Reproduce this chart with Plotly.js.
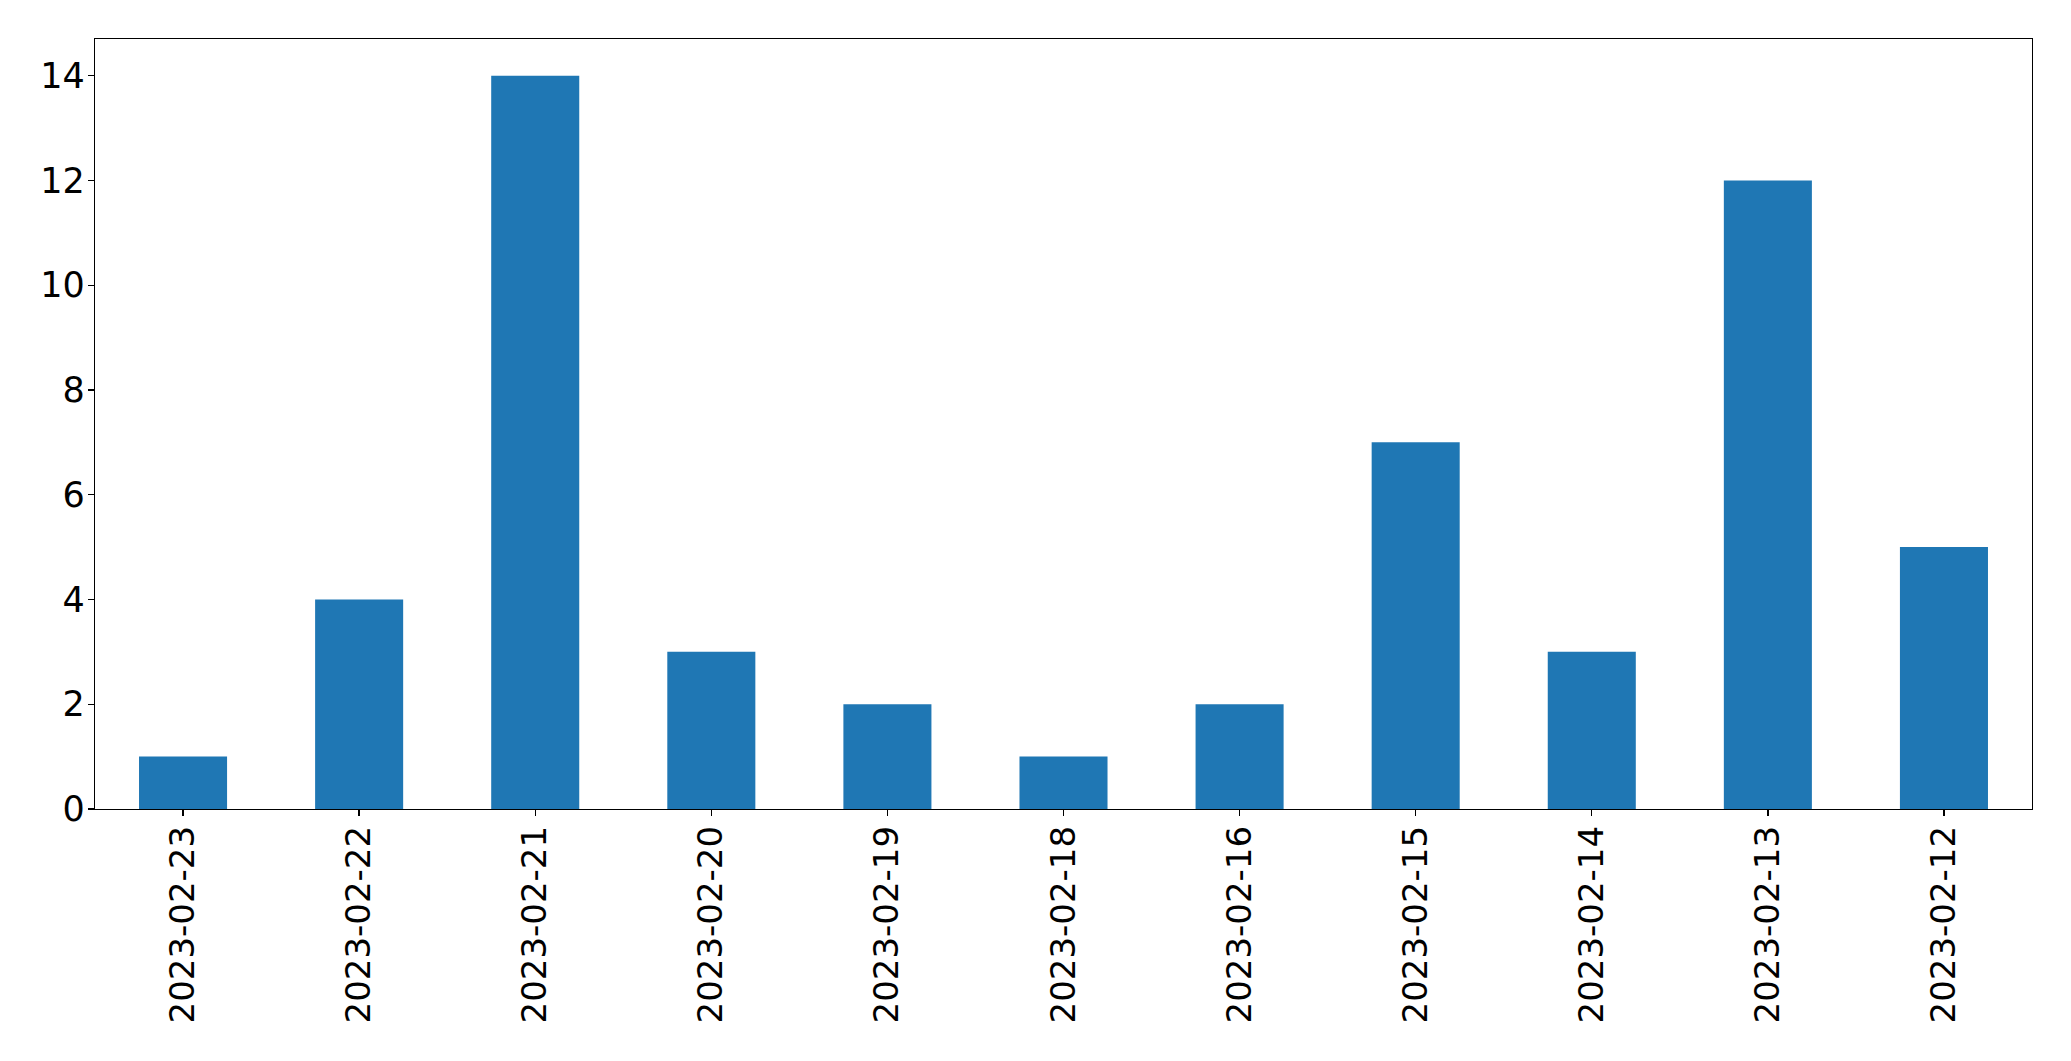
<!DOCTYPE html>
<html>
<head>
<meta charset="utf-8">
<script src="https://cdn.plot.ly/plotly-3.0.1.min.js"></script>
<style>html,body{margin:0;padding:0;background:#fff;}#chart{width:2071px;height:1061px;}</style>
</head>
<body>
<div id="chart"></div>
<script>
const dates = ["2023-02-23","2023-02-22","2023-02-21","2023-02-20","2023-02-19","2023-02-18","2023-02-16","2023-02-15","2023-02-14","2023-02-13","2023-02-12"];
const counts = [1, 4, 14, 3, 2, 1, 2, 7, 3, 12, 5];
const yTicks = [0, 2, 4, 6, 8, 10, 12, 14];

const trace = {
  type: 'bar',
  x: dates,
  y: counts,
  width: 0.5,
  marker: {color: '#1f77b4', line: {width: 0}},
  hoverinfo: 'x+y'
};

const layout = {
  width: 2071,
  height: 1061,
  paper_bgcolor: '#ffffff',
  plot_bgcolor: '#ffffff',
  margin: {l: 94.5, r: 38.7, t: 39.3, b: 251.7, pad: 0},
  font: {family: 'DejaVu Sans, sans-serif', size: 34, color: '#000000'},
  showlegend: false,
  xaxis: {
    type: 'category',
    range: [-0.5, 10.5],
    tickangle: -90,
    showline: true, mirror: true, linecolor: '#000000', linewidth: 1.3,
    ticks: 'outside', ticklen: 6, tickwidth: 1.3, tickcolor: '#000000',
    ticklabelstandoff: -4,
    showgrid: false, zeroline: false,
    tickfont: {family: 'DejaVu Sans, sans-serif', size: 34, color: '#000000'}
  },
  yaxis: {
    range: [0, 14.7],
    tickvals: yTicks,
    ticktext: yTicks.map(String),
    showline: true, mirror: true, linecolor: '#000000', linewidth: 1.3,
    ticks: 'outside', ticklen: 6, tickwidth: 1.3, tickcolor: '#000000',
    ticklabelstandoff: -4,
    showgrid: false, zeroline: false,
    tickfont: {family: 'DejaVu Sans, sans-serif', size: 35, color: '#000000'}
  }
};

Plotly.newPlot('chart', [trace], layout, {displayModeBar: false, staticPlot: true});
</script>
</body>
</html>
